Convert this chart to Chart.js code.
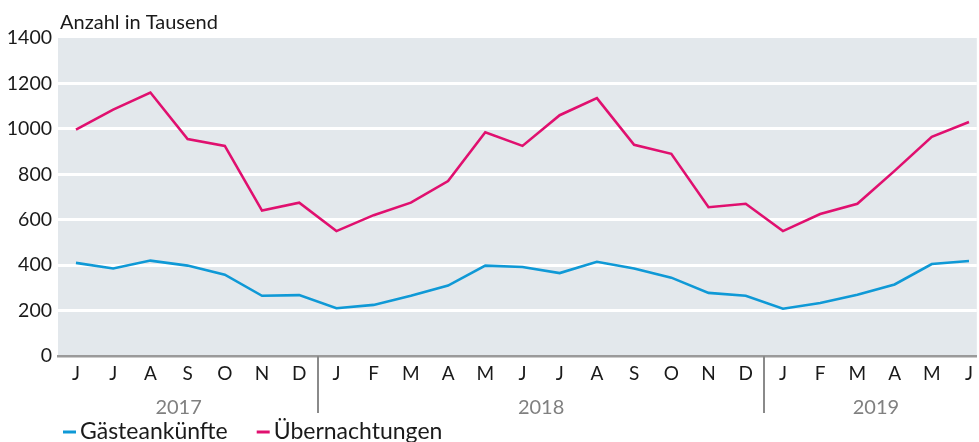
<!DOCTYPE html>
<html><head><meta charset="utf-8">
<script src="https://cdn.jsdelivr.net/npm/chart.js@4"></script>
<style>html,body{margin:0;padding:0;background:#fff}#wrap{width:979px;height:442px}</style>
</head><body><div id="wrap"><canvas id="c" width="979" height="442"></canvas></div>
<script>
const months = ['J','J','A','S','O','N','D','J','F','M','A','M','J','J','A','S','O','N','D','J','F','M','A','M','J'];
const years = ['2017','2018','2019'];
const yearStartIdx = [0, 7, 19];
const gaeste = [410,385,420,398,358,265,268,210,225,265,310,398,392,365,415,385,345,278,265,208,233,270,315,405,418];
const uebern = [997,1085,1160,955,925,640,675,550,620,675,770,985,925,1060,1135,930,890,655,670,550,625,670,815,965,1030];
const yTicks = [0,200,400,600,800,1000,1200,1400];
const seriesNames = ['Gästeankünfte','Übernachtungen'];
const colors = ['#0f99d6','#e0106f'];
const FONT = 'Lato, "Source Sans Pro", "Open Sans", sans-serif';

const toPts = arr => arr.map((v,i)=>({x:i,y:v}));

const deco = {
  id:'deco',
  beforeDraw(chart){
    const {ctx, chartArea:a} = chart;
    ctx.save();
    ctx.fillStyle = '#e3e8ec';
    ctx.fillRect(a.left, a.top, a.right-a.left, a.bottom-a.top);
    ctx.restore();
  },
  afterDraw(chart){
    const {ctx, chartArea:a, scales:{x}} = chart;
    ctx.save();
    ctx.fillStyle = '#1a1a1a';
    ctx.font = '20px ' + FONT;
    ctx.textBaseline = 'alphabetic';
    ctx.textAlign = 'left';
    ctx.fillText('Anzahl in Tausend', 60, 29);
    ctx.strokeStyle = '#8a8a8a';
    ctx.lineWidth = 2;
    for (let k=1;k<yearStartIdx.length;k++){
      const px = Math.round(x.getPixelForValue(yearStartIdx[k]-0.5));
      ctx.beginPath(); ctx.moveTo(px, a.bottom); ctx.lineTo(px, 413); ctx.stroke();
    }
    ctx.fillStyle = '#808080';
    ctx.font = '20px ' + FONT;
    ctx.textAlign = 'center';
    for (let k=0;k<years.length;k++){
      const s = yearStartIdx[k], e = (k+1<yearStartIdx.length? yearStartIdx[k+1] : months.length) - 1;
      const px = x.getPixelForValue((s+e)/2) - (k===0 ? 9 : 0);
      ctx.fillText(years[k], px, 414);
    }
    ctx.font = '23px ' + FONT;
    ctx.textAlign = 'left';
    let lx = 63;
    for (let k=0;k<seriesNames.length;k++){
      ctx.strokeStyle = colors[k]; ctx.lineWidth = 3;
      ctx.beginPath(); ctx.moveTo(lx, 432); ctx.lineTo(lx+13, 432); ctx.stroke();
      ctx.fillStyle = '#1a1a1a';
      ctx.fillText(seriesNames[k], lx+17, 439);
      lx += 17 + ctx.measureText(seriesNames[k]).width + 29;
    }
    ctx.restore();
  }
};

new Chart(document.getElementById('c'), {
  type:'line',
  data:{datasets:[
    {label:seriesNames[0], data:toPts(gaeste), borderColor:colors[0], borderWidth:2.6, pointRadius:0, tension:0},
    {label:seriesNames[1], data:toPts(uebern), borderColor:colors[1], borderWidth:2.6, pointRadius:0, tension:0}
  ]},
  options:{
    responsive:false, animation:false, devicePixelRatio:1,
    layout:{padding:{top:38,right:0,left:0,bottom:0}},
    plugins:{legend:{display:false}, tooltip:{enabled:false}},
    scales:{
      x:{type:'linear', min:-0.483, max:24.21,
        afterBuildTicks: s => { s.ticks = months.map((m,i)=>({value:i})); },
        afterFit: s => { s.height = 86; },
        grid:{display:false, drawTicks:false},
        border:{display:true, color:'#9a9a9a', width:2.5},
        ticks:{autoSkip:false, maxRotation:0, padding:6, color:'#1a1a1a', font:{family:FONT, size:19},
          callback:(v)=>months[v]}
      },
      y:{min:0, max:1400,
        afterBuildTicks: s => { s.ticks = yTicks.map(v=>({value:v})); },
        afterFit: s => { s.width = 58; },
        grid:{drawTicks:false, lineWidth:3, color: c => (c.tick && (c.tick.value===0 || c.tick.value===1400)) ? 'rgba(0,0,0,0)' : '#ffffff'},
        border:{display:false},
        ticks:{padding:6, color:'#1a1a1a', font:{family:FONT, size:19.5}, callback:v=>String(v)}
      }
    }
  },
  plugins:[deco]
});
</script></body></html>
